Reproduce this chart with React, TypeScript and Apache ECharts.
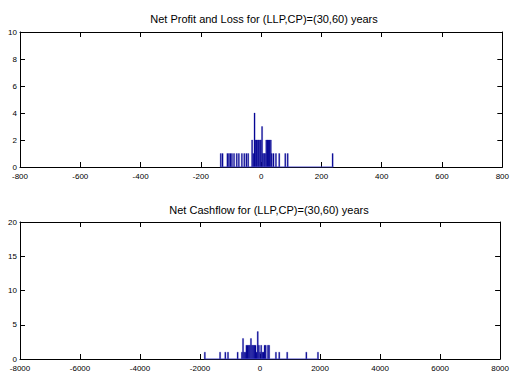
import React, { useEffect, useRef } from "react";
import * as echarts from "echarts";

// Net Profit and Loss histogram (bin centers / counts, non-empty bins only)
const pnlBins = [-134, -128, -112, -107, -102, -97, -90, -81, -74, -64, -56, -49, -43,
  -30, -26, -22, -18, -15, -11, -8, -4, -1, 3, 6, 10, 13, 17, 21, 24, 28, 32, 35,
  41, 49, 60, 80, 88, 237];
const pnlCounts = [1, 1, 1, 1, 1, 1, 1, 1, 1, 1, 1, 1, 1,
  2, 1, 4, 2, 2, 2, 2, 2, 2, 3, 1, 1, 1, 2, 2, 2, 2, 2, 1,
  1, 1, 1, 1, 1, 1];
const pnlRange = [-136, 239];
const pnlBinWidth = 3.71;

// Net Cashflow histogram
const cfBins = [-1840, -1332, -1157, -1068, -747, -605, -567, -530, -492, -454, -416,
  -378, -341, -303, -265, -228, -190, -152, -115, -77, -39, 0, 38, 75, 113, 151, 188,
  264, 302, 529, 640, 905, 1543, 1930];
const cfCounts = [1, 1, 1, 1, 1, 1, 3, 1, 1, 2, 2,
  2, 2, 3, 2, 2, 2, 2, 1, 4, 2, 1, 2, 1, 1, 2, 2,
  2, 2, 1, 1, 1, 1, 1];
const cfRange = [-1860, 1950];
const cfBinWidth = 37.7;

const titles = [
  "Net Profit and Loss for (LLP,CP)=(30,60) years",
  "Net Cashflow for (LLP,CP)=(30,60) years",
];
const xLimits = [[-800, 800, 200], [-8000, 8000, 2000]];
const yLimits = [[0, 10, 2], [0, 20, 5]];

const FONT = "Liberation Sans, Arial, sans-serif";

export default function App() {
  const ref = useRef<HTMLDivElement>(null);
  useEffect(() => {
    if (!ref.current) return;
    const chart = echarts.init(ref.current, undefined, { renderer: "svg" });

    const grids = [
      { left: 20, right: 8, top: 32, height: 135 },
      { left: 20, right: 8, top: 222, height: 137 },
    ];

    const axisCommon = (labels: boolean, margin: number) => ({
      axisLine: { show: true, onZero: false, lineStyle: { color: "#000", width: 1 } },
      axisTick: { show: true, inside: true, length: 5, lineStyle: { color: "#000" } },
      axisLabel: {
        show: labels, fontSize: 8, color: "#000", fontFamily: FONT, margin,
        formatter: (v: number) => String(v),
      },
      splitLine: { show: false },
    });

    const xAxis: any[] = [];
    const yAxis: any[] = [];
    [0, 1].forEach((g) => {
      const [xmin, xmax, xint] = xLimits[g];
      const [ymin, ymax, yint] = yLimits[g];
      xAxis.push({ type: "value", gridIndex: g, min: xmin, max: xmax, interval: xint, position: "bottom", ...axisCommon(true, 5) });
      xAxis.push({ type: "value", gridIndex: g, min: xmin, max: xmax, interval: xint, position: "top", ...axisCommon(false, 3) });
      yAxis.push({ type: "value", gridIndex: g, min: ymin, max: ymax, interval: yint, position: "left", ...axisCommon(true, 3) });
      yAxis.push({ type: "value", gridIndex: g, min: ymin, max: ymax, interval: yint, position: "right", ...axisCommon(false, 3) });
    });

    const histSeries = (g: number, bins: number[], counts: number[], bw: number) => ({
      type: "custom",
      xAxisIndex: g * 2,
      yAxisIndex: g * 2,
      data: bins.map((b, i) => [b, counts[i]]),
      renderItem: (params: any, api: any) => {
        const x = api.value(0);
        const y = api.value(1);
        const p0 = api.coord([x - bw / 2, y]);
        const p1 = api.coord([x + bw / 2, 0]);
        const w = Math.max(1, p1[0] - p0[0]);
        return {
          type: "rect",
          shape: { x: p0[0], y: p0[1], width: w, height: p1[1] - p0[1] },
          style: { fill: "#00008f", stroke: "#1a1aa8", lineWidth: 0.3 },
        };
      },
      z: 3,
    });

    const baseline = (g: number, range: number[]) => ({
      type: "line",
      xAxisIndex: g * 2,
      yAxisIndex: g * 2,
      data: [[range[0], 0], [range[1], 0]],
      symbol: "none",
      lineStyle: { color: "#4a4ad0", width: 1.2 },
      z: 4,
    });

    chart.setOption({
      animation: false,
      grid: grids,
      xAxis,
      yAxis,
      series: [
        baseline(0, pnlRange),
        histSeries(0, pnlBins, pnlCounts, pnlBinWidth),
        baseline(1, cfRange),
        histSeries(1, cfBins, cfCounts, cfBinWidth),
      ],
      graphic: [
        { type: "text", x: 264, y: 19, style: { text: titles[0], fontSize: 11, fontFamily: FONT, fill: "#000", align: "center", verticalAlign: "middle" } },
        { type: "text", x: 269, y: 210, style: { text: titles[1], fontSize: 11, fontFamily: FONT, fill: "#000", align: "center", verticalAlign: "middle" } },
      ],
    });
    return () => chart.dispose();
  }, []);
  return (
    <div
      ref={ref}
      style={{ position: "fixed", left: 0, top: 0, width: 512, height: 372, background: "#fff" }}
    />
  );
}
